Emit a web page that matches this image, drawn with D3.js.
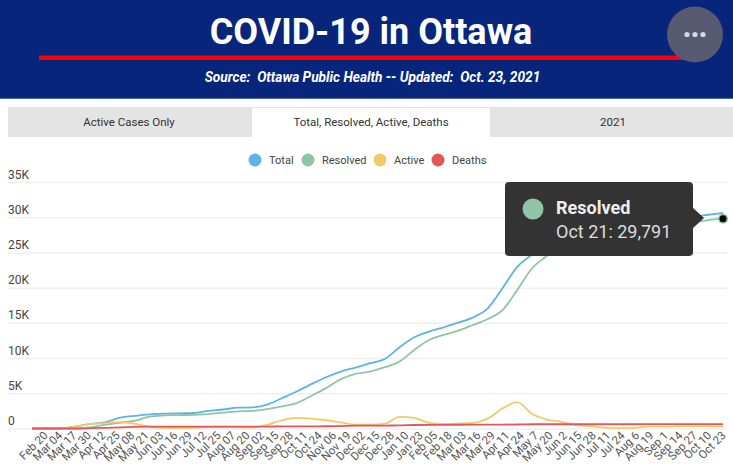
<!DOCTYPE html>
<html>
<head>
<meta charset="utf-8">
<script src="https://cdn.jsdelivr.net/npm/d3@7"></script>
<style>
  html, body { margin: 0; padding: 0; background: #fff; overflow: hidden; }
  text { font-family: Roboto, sans-serif; }
</style>
</head>
<body>
<script>
var dates = ["Feb 20","Mar 04","Mar 17","Mar 30","Apr 12","Apr 25","May 08","May 21","Jun 03","Jun 16","Jun 29","Jul 12","Jul 25","Aug 07","Aug 20","Sep 02","Sep 15","Sep 28","Oct 11","Oct 24","Nov 06","Nov 19","Dec 02","Dec 15","Dec 28","Jan 10","Jan 23","Feb 05","Feb 18","Mar 03","Mar 16","Mar 29","Apr 11","Apr 24","May 7","May 20","Jun 2","Jun 15","Jun 28","Jul 11","Jul 24","Aug 6","Aug 19","Sep 1","Sep 14","Sep 27","Oct 10","Oct 23"];
var total = [0,5,50,300,650,900,1550,1800,2000,2100,2150,2200,2500,2700,2950,3000,3400,4300,5250,6300,7280,8090,8660,9270,9880,11530,12950,13750,14370,15030,15780,17060,19900,22960,24700,26500,27900,28500,28900,29200,29400,29600,29750,29950,30000,30100,30350,30600];
var resolved = [0,0,0,0,150,550,800,1100,1700,1850,1900,1950,2050,2250,2430,2500,2750,3130,3600,4650,5730,7000,7760,8090,8700,9500,11160,12570,13280,13900,14700,15550,16800,19650,22720,24500,26300,27300,27900,28300,28500,28700,28850,29000,29100,29300,29600,29791];
var active = [0,5,50,300,650,800,900,650,250,100,100,100,200,250,200,150,530,1170,1500,1400,1170,860,560,560,700,1650,1500,800,640,700,800,1400,2830,3750,2100,1270,950,470,330,100,50,100,300,280,320,350,330,300];
var deaths = [0,0,0,0,50,100,160,240,260,265,265,265,265,270,270,270,270,300,300,310,320,350,400,410,420,430,500,510,520,530,540,560,560,570,600,600,600,605,605,605,605,605,608,608,610,610,610,610];
var yTicks = [0,5000,10000,15000,20000,25000,30000,35000];
var seriesNames = ["Total","Resolved","Active","Deaths"];
var seriesColors = ["#5bb4e5","#8fc5a5","#f3c966","#e2575c"];
var legendX = [255,308,380,438];

var svg = d3.select("body").append("svg")
    .attr("width", 733)
    .attr("height", 469)
    .style("display", "block");

// header
svg.append("rect").attr("width", 733).attr("height", 98).attr("fill", "#06257b");
svg.append("rect").attr("y", 98).attr("width", 733).attr("height", 1).attr("fill", "#4a66ad");
svg.append("text").attr("x", 371).attr("y", 44)
    .attr("text-anchor", "middle").attr("fill", "#fff")
    .style("font-size", "36px").style("font-weight", 700)
    .text("COVID-19 in Ottawa");
svg.append("rect").attr("x", 39).attr("y", 55.5).attr("width", 650).attr("height", 4.5).attr("fill", "#fb0007");
svg.append("text").attr("x", 372.5).attr("y", 82)
    .attr("text-anchor", "middle").attr("fill", "#fff")
    .style("font-size", "13.7px").style("font-weight", 700).style("font-style", "italic")
    .attr("xml:space", "preserve")
    .text("Source:  Ottawa Public Health -- Updated:  Oct. 23, 2021");
svg.append("circle").attr("cx", 695).attr("cy", 34.5).attr("r", 28).attr("fill", "#575a70");
[-8, 0, 8].forEach(function(dx) {
    svg.append("circle").attr("cx", 695 + dx).attr("cy", 34.5).attr("r", 2.6).attr("fill", "#d5d7e2");
});

// tabs
svg.append("rect").attr("x", 8).attr("y", 107).attr("width", 725).attr("height", 30).attr("fill", "#e4e4e4");
svg.append("rect").attr("x", 252).attr("y", 108).attr("width", 238).attr("height", 30).attr("rx", 2).attr("fill", "#fff");
var tabs = [["Active Cases Only",129],["Total, Resolved, Active, Deaths",371],["2021",613]];
tabs.forEach(function(t) {
    svg.append("text").attr("x", t[1]).attr("y", 125.5)
        .attr("text-anchor", "middle").attr("fill", "#333")
        .style("font-size", "11.5px")
        .text(t[0]);
});

// legend
seriesNames.forEach(function(name, i) {
    svg.append("circle").attr("cx", legendX[i]).attr("cy", 160).attr("r", 6.5).attr("fill", seriesColors[i]);
    svg.append("text").attr("x", legendX[i] + 14).attr("y", 164)
        .attr("fill", "#444").style("font-size", "11px")
        .text(name);
});

// scales
var x = d3.scalePoint().domain(dates).range([32, 723]);
var xLabels = d3.scalePoint().domain(dates).range([44, 722]);
var y = d3.scaleLinear().domain([0, 35000]).range([428.5, 182]);

// y axis, labels sit above the gridlines
var yAxis = d3.axisLeft(y)
    .tickValues(yTicks)
    .tickSize(-719)
    .tickFormat(function(d) { return d == 0 ? "0" : (d / 1000) + "K"; });
var yG = svg.append("g").attr("transform", "translate(8,0)").call(yAxis);
yG.select(".domain").remove();
yG.selectAll("line").attr("stroke", "#efefef").attr("stroke-width", 1.5);
yG.selectAll("text")
    .attr("x", 0).attr("dy", "-4px")
    .attr("text-anchor", "start")
    .attr("fill", "#444")
    .style("font-size", "12px");

// x axis
var xAxis = d3.axisBottom(xLabels).tickSize(0);
var xG = svg.append("g").attr("transform", "translate(0,432)").call(xAxis);
xG.select(".domain").remove();
xG.selectAll("text")
    .attr("x", 0).attr("y", 0).attr("dy", "0.5em")
    .attr("text-anchor", "end")
    .attr("transform", "rotate(-45)")
    .attr("fill", "#555")
    .style("font-size", "11.5px");

// lines
var line = d3.line()
    .x(function(d, i) { return x(dates[i]); })
    .y(function(d) { return y(d); })
    .curve(d3.curveMonotoneX);

[total, resolved, active, deaths].forEach(function(values, i) {
    svg.append("path")
        .attr("d", line(values))
        .attr("fill", "none")
        .attr("stroke", seriesColors[i])
        .attr("stroke-width", 1.8);
});

// hover marker and tooltip
var last = dates[dates.length - 1];
var hoverY = y(resolved[resolved.length - 1]);
svg.append("circle").attr("cx", x(last)).attr("cy", hoverY).attr("r", 5).attr("fill", seriesColors[1]);
svg.append("circle").attr("cx", x(last)).attr("cy", hoverY).attr("r", 3.5).attr("fill", "#000");

svg.append("rect").attr("x", 505).attr("y", 182).attr("width", 188).attr("height", 74).attr("rx", 4).attr("fill", "#333");
svg.append("path").attr("d", "M692,207L704,218L692,229Z").attr("fill", "#333");
svg.append("circle").attr("cx", 533).attr("cy", 209).attr("r", 10.5).attr("fill", seriesColors[1]);
svg.append("text").attr("x", 556).attr("y", 214)
    .attr("fill", "#eee").style("font-size", "18px").style("font-weight", 700)
    .text("Resolved");
svg.append("text").attr("x", 556).attr("y", 237.5)
    .attr("fill", "#ddd").style("font-size", "18px")
    .text("Oct 21: 29,791");
</script>
</body>
</html>
